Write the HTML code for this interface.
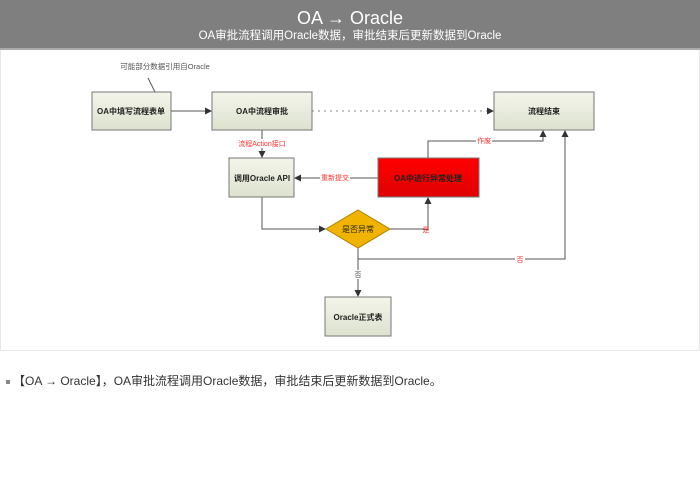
<!DOCTYPE html>
<html><head><meta charset="utf-8"><style>
body{margin:0;width:700px;height:500px;background:#fff;font-family:"Liberation Sans","Noto Sans CJK SC",sans-serif;overflow:hidden;position:relative}
.hdr{position:absolute;left:0;top:0;width:700px;height:48px;background:#7f7f7f;border-bottom:2px solid #aaa;color:#fff;text-align:center}
.panel{position:absolute;left:0;top:50px;width:698px;height:300px;border:1px solid #e6e6e6;border-top:none}
.foot{position:absolute;left:6px;top:372px;font-size:12px;color:#333}
</style></head><body>
<div class="hdr"><div style="font-size:18px;padding-top:8px;line-height:20px">OA → Oracle</div><div style="font-size:11.5px;line-height:16px">OA审批流程调用Oracle数据，审批结束后更新数据到Oracle</div></div>
<div class="panel"></div>
<svg width="700" height="500" style="position:absolute;left:0;top:0" font-family="Liberation Sans,Noto Sans CJK SC,sans-serif">
<defs>
<linearGradient id="g" x1="0" y1="0" x2="0" y2="1"><stop offset="0" stop-color="#f3f5ea"/><stop offset="1" stop-color="#dde2cf"/></linearGradient>
<linearGradient id="r" x1="0" y1="0" x2="0" y2="1"><stop offset="0" stop-color="#ff0000"/><stop offset="1" stop-color="#e00000"/></linearGradient>
<marker id="a" markerWidth="7" markerHeight="7" refX="6" refY="3.5" orient="auto" markerUnits="userSpaceOnUse"><path d="M0,0L7,3.5L0,7z" fill="#333"/></marker>
</defs>
<g fill="none" stroke="#555" stroke-width="1">
<line x1="148" y1="78" x2="155" y2="92"/>
<line x1="171" y1="111" x2="211" y2="111" marker-end="url(#a)"/>
<line x1="312" y1="111" x2="493" y2="111" stroke-dasharray="2,4" stroke="#888" marker-end="url(#a)"/>
<line x1="262" y1="130" x2="262" y2="157" marker-end="url(#a)"/>
<line x1="378" y1="178" x2="295" y2="178" marker-end="url(#a)"/>
<polyline points="262,197 262,229 325,229" marker-end="url(#a)"/>
<polyline points="390,229 428,229 428,198" marker-end="url(#a)"/>
<polyline points="428,158 428,141 543,141 543,131" marker-end="url(#a)"/>
<polyline points="358,248 358,259 565,259 565,131" marker-end="url(#a)"/>
<line x1="358" y1="259" x2="358" y2="296" marker-end="url(#a)"/>
</g>
<g stroke="#777" fill="url(#g)">
<rect x="92" y="92" width="79" height="38"/>
<rect x="212" y="92" width="100" height="38"/>
<rect x="229" y="158" width="65" height="39"/>
<rect x="494" y="92" width="100" height="38"/>
<rect x="325" y="297" width="66" height="39"/>
<rect x="378" y="158" width="101" height="39" fill="url(#r)"/>
<polygon points="358,210 390,229 358,248 326,229" fill="#f0b400" stroke="#b08000"/>
</g>
<g font-size="8" font-weight="bold" fill="#222" text-anchor="middle">
<text x="131" y="114">OA中填写流程表单</text>
<text x="262" y="114">OA中流程审批</text>
<text x="262" y="181">调用Oracle API</text>
<text x="544" y="114">流程结束</text>
<text x="358" y="320">Oracle正式表</text>
<text x="428" y="181">OA中进行异常处理</text>
<text x="358" y="232" font-weight="normal">是否异常</text>
</g>
<g font-size="7" text-anchor="middle">
<text x="165" y="69" fill="#555" font-size="7.5">可能部分数据引用自Oracle</text>
<rect x="234" y="139" width="56" height="9" fill="#fff"/>
<text x="262" y="146" fill="#f33">流程Action接口</text>
<rect x="320" y="173" width="30" height="9" fill="#fff"/>
<text x="335" y="180" fill="#f33">重新提交</text>
<rect x="476" y="136" width="16" height="9" fill="#fff"/>
<text x="484" y="143" fill="#f33">作废</text>
<text x="426" y="232" fill="#f33">是</text>
<rect x="515" y="255" width="10" height="9" fill="#fff"/>
<text x="520" y="262" fill="#f33">否</text>
<rect x="353" y="270" width="10" height="9" fill="#fff"/>
<text x="358" y="277" fill="#555">否</text>
</g>
</svg>
<div class="foot"><span style="display:inline-block;width:4px;height:4px;background:#888;vertical-align:middle;margin-right:3px"></span>【OA → Oracle】，OA审批流程调用Oracle数据，审批结束后更新数据到Oracle。</div>
</body></html>
